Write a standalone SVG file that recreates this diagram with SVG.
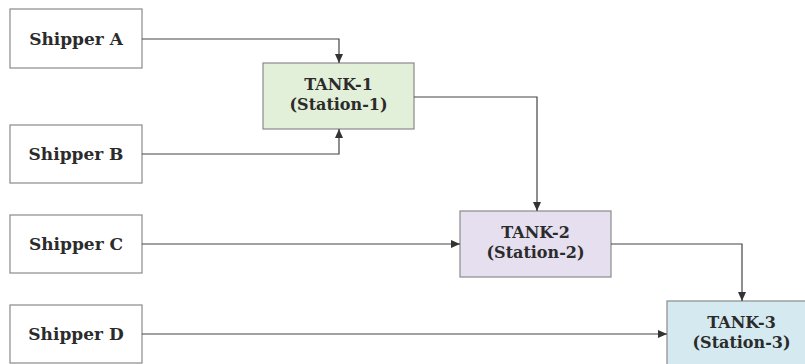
<svg xmlns="http://www.w3.org/2000/svg" width="805" height="364" viewBox="0 0 805 364">
<style>
.box{stroke:#8a8a8a;stroke-width:1.2}
.ship{fill:#ffffff}
.t{font-family:"DejaVu Serif","Liberation Serif",serif;font-weight:bold;font-size:17px;fill:#2b2b2b;text-anchor:middle}
.tk{font-size:16px}
.c{fill:none;stroke:#444;stroke-width:1.2;marker-end:url(#ah)}
</style>
<defs>
<marker id="ah" markerWidth="10" markerHeight="8" refX="9" refY="4" orient="auto" markerUnits="userSpaceOnUse">
<path d="M0,0 L9,4 L0,8 Z" fill="#333"/>
</marker>
</defs>
<rect width="805" height="364" fill="#ffffff"/>
<g id="shipperA"><rect class="box ship" x="10" y="9" width="132" height="59"/><text class="t" x="76" y="45">Shipper A</text></g>
<g id="shipperB"><rect class="box ship" x="10" y="125" width="132" height="58"/><text class="t" x="76" y="160">Shipper B</text></g>
<g id="shipperC"><rect class="box ship" x="10" y="215" width="132" height="58"/><text class="t" x="76" y="250">Shipper C</text></g>
<g id="shipperD"><rect class="box ship" x="10" y="305" width="132" height="58"/><text class="t" x="76" y="340">Shipper D</text></g>
<g id="tank1"><rect class="box" x="263" y="63" width="151" height="66" fill="#e2efd9"/><text class="t tk" x="338.5" y="90">TANK-1</text><text class="t tk" x="338.5" y="110">(Station-1)</text></g>
<g id="tank2"><rect class="box" x="460" y="211" width="151" height="66" fill="#e5dff0"/><text class="t tk" x="535.5" y="238">TANK-2</text><text class="t tk" x="535.5" y="258">(Station-2)</text></g>
<g id="tank3"><rect class="box" x="667" y="301" width="150" height="70" fill="#d5eaf0"/><text class="t tk" x="741.5" y="328">TANK-3</text><text class="t tk" x="741.5" y="348">(Station-3)</text></g>
<g id="connectors">
<path class="c" d="M142,39 H339 V63"/>
<path class="c" d="M142,154 H339 V129"/>
<path class="c" d="M414,97 H537 V211"/>
<path class="c" d="M142,244 H460"/>
<path class="c" d="M611,244 H742 V301"/>
<path class="c" d="M142,334 H667"/>
</g>
</svg>
